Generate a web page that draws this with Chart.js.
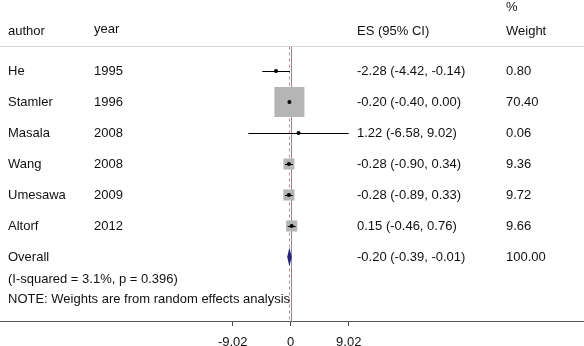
<!DOCTYPE html>
<html>
<head>
<meta charset="utf-8">
<script src="https://cdn.jsdelivr.net/npm/chart.js@4.4.0/dist/chart.umd.min.js"></script>
<style>
  html, body { margin: 0; padding: 0; background: #fff; }
  #wrap { width: 584px; height: 346px; }
</style>
</head>
<body>
<div id="wrap"><canvas id="forest" width="584" height="346"></canvas></div>
<script>
// study data
var authors = ['He', 'Stamler', 'Masala', 'Wang', 'Umesawa', 'Altorf'];
var years = ['1995', '1996', '2008', '2008', '2009', '2012'];
var es = [-2.28, -0.20, 1.22, -0.28, -0.28, 0.15];
var lo = [-4.42, -0.40, -6.58, -0.90, -0.89, -0.46];
var hi = [-0.14, 0.00, 9.02, 0.34, 0.33, 0.76];
var weights = [0.80, 70.40, 0.06, 9.36, 9.72, 9.66];
var overallEs = -0.20, overallLo = -0.39, overallHi = -0.01, overallWeight = 100.00;
var hetText = '(I-squared = 3.1%, p = 0.396)';
var noteText = 'NOTE: Weights are from random effects analysis';
var xTicks = [-9.02, 0, 9.02];

(function () {
  var FONT = '13px "Liberation Sans", Arial, sans-serif';
  var overallRow = authors.length + 1;
  var maxW = Math.max.apply(null, weights);
  var BOX_MAX = 30; // px side of biggest box

  function fmt(v) { return v.toFixed(2); }

  var boxes = es.map(function (v, i) { return { x: v, y: i + 1 }; });
  var boxRadius = weights.map(function (w) { return BOX_MAX * Math.sqrt(w / maxW) / Math.SQRT2; });

  var forestDraw = {
    id: 'forestDraw',
    beforeDatasetsDraw: function (chart) {
      var c = chart.ctx, x = chart.scales.x, y = chart.scales.y, a = chart.chartArea;
      var top = Math.round(y.getPixelForValue(0.19)) + 0.5;
      c.save();
      // header rule
      c.strokeStyle = '#d8d8d8';
      c.lineWidth = 1;
      c.beginPath(); c.moveTo(a.left, top); c.lineTo(a.right, top); c.stroke();
      // null line
      var x0 = Math.round(x.getPixelForValue(0)) + 0.5;
      c.strokeStyle = '#8c8c8c';
      c.beginPath(); c.moveTo(x0, top); c.lineTo(x0, a.bottom); c.stroke();
      // overall effect line
      var xo = Math.round(x.getPixelForValue(overallEs)) + 0.5;
      c.strokeStyle = '#c98a8a';
      c.setLineDash([3, 3]);
      c.beginPath(); c.moveTo(xo, top); c.lineTo(xo, a.bottom); c.stroke();
      c.restore();
    },
    afterDatasetsDraw: function (chart) {
      var c = chart.ctx, x = chart.scales.x, y = chart.scales.y;
      c.save();
      // confidence intervals
      c.strokeStyle = '#000';
      c.lineWidth = 1;
      for (var i = 0; i < es.length; i++) {
        var py = Math.round(y.getPixelForValue(i + 1)) + 0.5;
        c.beginPath();
        c.moveTo(x.getPixelForValue(lo[i]), py);
        c.lineTo(x.getPixelForValue(hi[i]), py);
        c.stroke();
      }
      // overall diamond
      var dy = y.getPixelForValue(overallRow);
      c.fillStyle = '#24247e';
      c.beginPath();
      c.moveTo(x.getPixelForValue(overallLo) - 1, dy);
      c.lineTo(x.getPixelForValue(overallEs), dy - 9.5);
      c.lineTo(x.getPixelForValue(overallHi) + 1, dy);
      c.lineTo(x.getPixelForValue(overallEs), dy + 9.5);
      c.closePath();
      c.fill();

      // table text
      c.font = FONT;
      c.fillStyle = '#111';
      c.textBaseline = 'middle';
      c.textAlign = 'left';
      var colAuthor = 8, colYear = 94, colEs = 357, colW = 506;
      var hy = y.getPixelForValue(-0.29);
      c.fillText('author', colAuthor, hy);
      c.fillText('year', colYear, hy - 2);
      c.fillText('ES (95% CI)', colEs, hy);
      c.fillText('%', colW, y.getPixelForValue(-1.05));
      c.fillText('Weight', colW, hy);
      for (var j = 0; j < authors.length; j++) {
        var ry = y.getPixelForValue(j + 1);
        c.fillText(authors[j], colAuthor, ry);
        c.fillText(years[j], colYear, ry);
        c.fillText(fmt(es[j]) + ' (' + fmt(lo[j]) + ', ' + fmt(hi[j]) + ')', colEs, ry);
        c.fillText(fmt(weights[j]), colW, ry);
      }
      var oy = y.getPixelForValue(overallRow);
      c.fillText('Overall', colAuthor, oy);
      c.fillText(fmt(overallEs) + ' (' + fmt(overallLo) + ', ' + fmt(overallHi) + ')', colEs, oy);
      c.fillText(fmt(overallWeight), colW, oy);
      c.fillText(hetText, colAuthor, y.getPixelForValue(overallRow + 0.71));
      c.fillText(noteText, colAuthor, y.getPixelForValue(overallRow + 1.36));
      c.restore();
    }
  };

  new Chart(document.getElementById('forest').getContext('2d'), {
    type: 'scatter',
    data: {
      datasets: [
        { label: 'weight', data: boxes, pointStyle: 'rect', pointRadius: boxRadius,
          backgroundColor: '#b5b5b5', borderWidth: 0, order: 2 },
        { label: 'estimate', data: boxes, pointStyle: 'circle', pointRadius: 2,
          backgroundColor: '#000', borderWidth: 0, order: 1 }
      ]
    },
    options: {
      responsive: false,
      animation: false,
      devicePixelRatio: 1,
      layout: { padding: 0, autoPadding: false },
      plugins: { legend: { display: false }, tooltip: { enabled: false } },
      scales: {
        x: {
          type: 'linear', min: -45.2, max: 45.6,
          afterBuildTicks: function (s) { s.ticks = xTicks.map(function (v) { return { value: v }; }); },
          afterFit: function (s) { s.height = 25; },
          ticks: {
            autoSkip: false, maxRotation: 0, padding: 9, color: '#111',
            font: { family: '"Liberation Sans", Arial, sans-serif', size: 13 },
            callback: function (v) { return v === 0 ? '0' : v.toFixed(2); }
          },
          grid: { drawOnChartArea: false, drawTicks: true, tickLength: 5, color: '#444' },
          border: { color: '#555' }
        },
        y: { type: 'linear', display: false, reverse: true, min: -1.29, max: 9.065 }
      }
    },
    plugins: [forestDraw]
  });
})();
</script>
</body>
</html>
